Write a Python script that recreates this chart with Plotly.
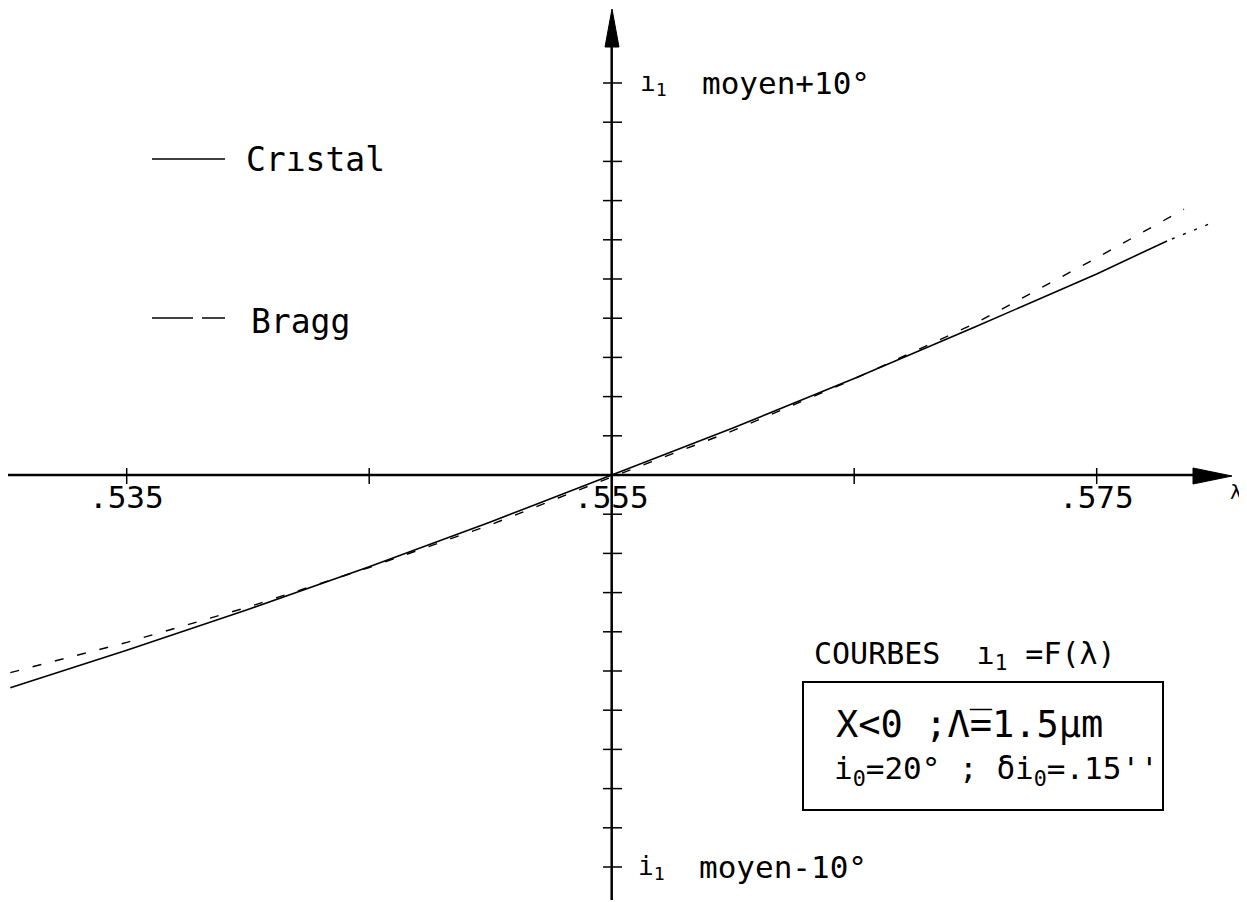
import plotly.graph_objects as go

# longueur d'onde (µm) et écart angulaire à i1 moyen (degrés)
lam = [0.5302, 0.535, 0.540, 0.545, 0.550, 0.555, 0.560, 0.565, 0.570, 0.575, 0.5779]
cristal = [-5.43, -4.47, -3.43, -2.34, -1.20, 0.0, 1.20, 2.46, 3.78, 5.13, 5.97]
lam_fin = [0.5781, 0.5797]
cristal_fin = [6.02, 6.42]
lam_bragg = [0.5302, 0.535, 0.540, 0.545, 0.550, 0.555, 0.560, 0.565, 0.570, 0.575, 0.5786]
bragg = [-5.04, -4.27, -3.37, -2.36, -1.27, -0.05, 1.13, 2.45, 3.87, 5.54, 6.78]

xticks = [0.535, 0.545, 0.565, 0.575]
xlabels = ['.535', '.555', '.575']
xlabel_pos = [0.535, 0.555, 0.575]
yticks = [-10, -9, -8, -7, -6, -5, -4, -3, -2, -1, 1, 2, 3, 4, 5, 6, 7, 8, 9, 10]

FONT = 'DejaVu Sans Mono'
OFF = 8  # marge du <body> de la page


# pixels de la page -> coordonnées des axes
def X(px):
    return 0.555 + (px - 611.7) / 24250


def Y(py):
    return (475 - py) / 39.2


fig = go.Figure()
fig.add_trace(go.Scatter(x=lam, y=cristal, mode='lines', name='Cristal',
                         line=dict(color='black', width=1.6)))
fig.add_trace(go.Scatter(x=lam_fin, y=cristal_fin, mode='lines', showlegend=False,
                         line=dict(color='black', width=1.4, dash='3px,9px')))
fig.add_trace(go.Scatter(x=lam_bragg, y=bragg, mode='lines', name='Bragg',
                         line=dict(color='black', width=1.4, dash='9px,14px')))

shapes = []
# axes
shapes.append(dict(type='line', x0=X(7), x1=X(1195), y0=0, y1=0, line=dict(color='black', width=2.5)))
shapes.append(dict(type='line', x0=0.555, x1=0.555, y0=Y(900), y1=Y(45), line=dict(color='black', width=2.5)))
shapes.append(dict(type='path', path=f'M {X(1193)},{Y(468)} L {X(1232)},{Y(476)} L {X(1193)},{Y(484)} Z',
                   fillcolor='black', line=dict(color='black', width=1)))
shapes.append(dict(type='path', path=f'M {X(605)},{Y(47)} L {X(612)},{Y(9)} L {X(619)},{Y(47)} Z',
                   fillcolor='black', line=dict(color='black', width=1)))
for t in xticks:
    shapes.append(dict(type='line', x0=t, x1=t, y0=Y(484), y1=Y(468), line=dict(color='black', width=1.5)))
for t in yticks:
    shapes.append(dict(type='line', x0=X(603), x1=X(622), y0=t, y1=t, line=dict(color='black', width=1.5)))

# légende
shapes.append(dict(type='line', x0=X(152), x1=X(225), y0=Y(159), y1=Y(159), line=dict(color='black', width=1.5)))
shapes.append(dict(type='line', x0=X(152), x1=X(193), y0=Y(318), y1=Y(318), line=dict(color='black', width=1.5)))
shapes.append(dict(type='line', x0=X(202), x1=X(225), y0=Y(318), y1=Y(318), line=dict(color='black', width=1.5)))

# cadre
shapes.append(dict(type='rect', x0=X(803), x1=X(1163), y0=Y(682), y1=Y(810), line=dict(color='black', width=2)))

ann = []


def txt(x, y, s, size=30, anchor='left'):
    ann.append(dict(x=x, y=y, text=s, showarrow=False, xanchor=anchor, yanchor='middle',
                    font=dict(family=FONT, size=size, color='black')))


for p, s in zip(xlabel_pos, xlabels):
    txt(p, Y(497), s, 31, 'center')
txt(X(1236), Y(492), 'λ', 20, 'center')

txt(X(638), 10, 'ı<sub>1</sub>', 26)
txt(X(700), 10, 'moyen+10°', 31)
txt(X(636), -10, 'i<sub>1</sub>', 26)
txt(X(697), -10, 'moyen-10°', 31)

txt(X(244), Y(159), 'Crıstal', 33)
txt(X(249), Y(321), 'Bragg', 33)

txt(X(812), Y(655), 'COURBES  ı<sub>1</sub> =F(λ)', 30)
txt(X(834), Y(724), 'X<0 ;Λ\u0305=1.5µm', 37)
txt(X(832), Y(770), 'i<sub>0</sub>=20° ; δi<sub>0</sub>=.15\'\'', 31)

fig.update_layout(
    width=1247 - OFF, height=902 - OFF,
    margin=dict(l=0, r=0, t=0, b=0),
    plot_bgcolor='white', paper_bgcolor='white',
    showlegend=False,
    xaxis=dict(range=[X(OFF), X(1247)], visible=False),
    yaxis=dict(range=[Y(902), Y(OFF)], visible=False),
    shapes=shapes, annotations=ann,
)

fig.write_html("out.html")
